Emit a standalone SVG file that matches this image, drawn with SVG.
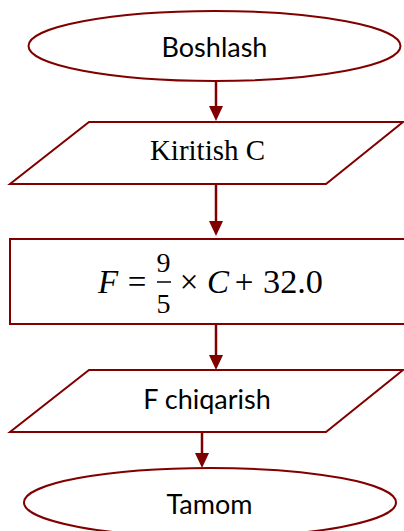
<svg xmlns="http://www.w3.org/2000/svg" width="404" height="531" viewBox="0 0 404 531">
  <defs>
    <style>
      .shape { fill: #ffffff; stroke: #800000; stroke-width: 2; }
      .conn { stroke: #800000; stroke-width: 2.5; fill: none; }
      .head { fill: #800000; }
      .sans { font-family: Lato, "Liberation Sans", sans-serif; font-size: 27px; fill: #000; text-anchor: middle; }
      .serif { font-family: "Liberation Serif", serif; fill: #000; text-anchor: middle; }
      .math { font-family: "Liberation Serif", "DejaVu Serif", serif; fill: #000; }
    </style>
  </defs>

  <g id="connectors">
    <line class="conn" x1="216" y1="81" x2="216" y2="106"/>
    <path class="head" d="M209,106 L223,106 L216,121 Z"/>
    <line class="conn" x1="216" y1="184" x2="216" y2="221"/>
    <path class="head" d="M209,221 L223,221 L216,236 Z"/>
    <line class="conn" x1="216" y1="324" x2="216" y2="355"/>
    <path class="head" d="M209,355 L223,355 L216,370 Z"/>
    <line class="conn" x1="202" y1="432" x2="202" y2="453"/>
    <path class="head" d="M195,453 L209,453 L202,468 Z"/>
  </g>

  <g id="start">
    <ellipse class="shape" cx="214.5" cy="46" rx="186" ry="35"/>
    <text class="sans" x="214.5" y="57">Boshlash</text>
  </g>

  <g id="input">
    <polygon class="shape" points="89,122 403,122 326,184 10,184"/>
    <text class="serif" x="207.5" y="160" font-size="29">Kiritish C</text>
  </g>

  <g id="process">
    <rect class="shape" x="10" y="239" width="400" height="85"/>
    <text class="math" x="98" y="293" font-size="33" font-style="italic">F</text>
    <text class="math" x="137" y="293" font-size="33" text-anchor="middle">=</text>
    <text class="math" x="163.5" y="272" font-size="28" text-anchor="middle">9</text>
    <line x1="157" y1="282" x2="171" y2="282" stroke="#000" stroke-width="1.5"/>
    <text class="math" x="163.5" y="313" font-size="28" text-anchor="middle">5</text>
    <text class="math" x="189" y="293" font-size="33" text-anchor="middle">×</text>
    <text class="math" x="207" y="293" font-size="33" font-style="italic">C</text>
    <text class="math" x="244" y="293" font-size="33" text-anchor="middle">+</text>
    <text class="math" x="263" y="293" font-size="33" textLength="60" lengthAdjust="spacingAndGlyphs">32.0</text>
  </g>

  <g id="output">
    <polygon class="shape" points="89,370 403,370 326,432 10,432"/>
    <text class="sans" x="207" y="409">F chiqarish</text>
  </g>

  <g id="end">
    <ellipse class="shape" cx="210" cy="502.5" rx="186" ry="34.5"/>
    <text class="sans" x="209.5" y="514">Tamom</text>
  </g>
</svg>
